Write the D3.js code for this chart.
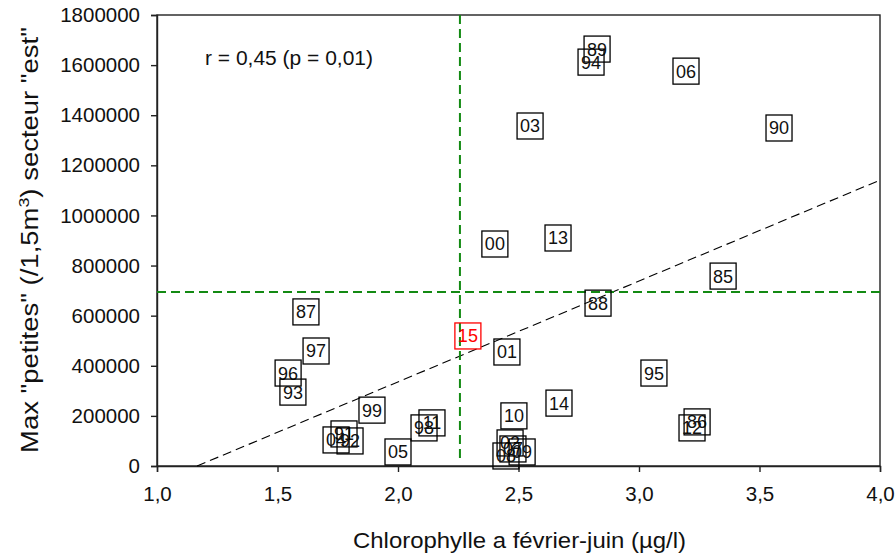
<!DOCTYPE html>
<html><head><meta charset="utf-8">
<script src="https://cdn.jsdelivr.net/npm/d3@7"></script>
<style>body{margin:0;background:#fff}svg{font-family:"Liberation Sans",Arial,sans-serif}</style>
</head><body>
<svg id="c" width="896" height="555"></svg>
<script>
const labels = ["89","94","06","03","90","00","13","85","88","87","15","01","97","96","93","95","14","99","10","98","11","86","12","91","04","92","05","02","07","08","09"];
const chl =    [2.826,2.801,3.195,2.548,3.581,2.402,2.664,3.349,2.830,1.618,2.290,2.452,1.660,1.544,1.564,3.062,2.668,1.892,2.481,2.108,2.141,3.241,3.220,1.776,1.743,1.801,2.000,2.465,2.477,2.448,2.515];
const maxPetites = [1664000,1612000,1576000,1357000,1349000,886000,910000,758000,650000,615000,519000,455000,459000,371000,295000,371000,251000,223000,200000,152000,172000,176000,152000,128000,104000,100000,56000,92000,68000,40000,56000];
const highlight = ["15"];
const xTicks = [1.0,1.5,2.0,2.5,3.0,3.5,4.0];
const yTicks = [0,200000,400000,600000,800000,1000000,1200000,1400000,1600000,1800000];
const meanChl = [2.257];
const meanMax = [694000];
const regSlope = [402600];
const regIntercept = [-469500];
const rText = ["r = 0,45 (p = 0,01)"];

const svg = d3.select("#c");
const L=157,R=880,T=15,B=466;
const x = d3.scaleLinear().domain([1,4]).range([L,R]);
const y = d3.scaleLinear().domain([0,1800000]).range([B,T]);

// frame
svg.append("rect").attr("x",L).attr("y",T).attr("width",R-L).attr("height",B-T)
  .attr("fill","none").attr("stroke","#222").attr("stroke-width",1.4);

const fmtX = d=>d3.format(".1f")(d).replace(".",",");
const xa = svg.append("g").attr("transform",`translate(0,${B})`)
  .call(d3.axisBottom(x).tickValues(xTicks).tickFormat(fmtX).tickSize(6).tickPadding(14));
const ya = svg.append("g").attr("transform",`translate(${L},0)`)
  .call(d3.axisLeft(y).tickValues(yTicks).tickFormat(d3.format("d")).tickSize(6).tickPadding(11));
[xa,ya].forEach(a=>{
  a.select(".domain").attr("stroke","#222").attr("stroke-width",1.4);
  a.selectAll(".tick line").attr("stroke","#222").attr("stroke-width",1.4);
  a.selectAll("text").attr("font-size",20.5).attr("fill","#111").attr("font-family","Liberation Sans, Arial, sans-serif");
});

// regression line
const x0 = -regIntercept[0]/regSlope[0];
svg.append("line").attr("x1",x(x0)).attr("y1",y(0)).attr("x2",x(4)).attr("y2",y(regSlope[0]*4+regIntercept[0]))
  .attr("stroke","#000").attr("stroke-width",1.1).attr("stroke-dasharray","9,5");

// mean lines
svg.append("line").attr("x1",x(meanChl[0])).attr("x2",x(meanChl[0])).attr("y1",T).attr("y2",B-4)
  .attr("stroke","#138a13").attr("stroke-width",2).attr("stroke-dasharray","9,5");
svg.append("line").attr("x1",L).attr("x2",R).attr("y1",y(meanMax[0])).attr("y2",y(meanMax[0]))
  .attr("stroke","#138a13").attr("stroke-width",2).attr("stroke-dasharray","9,5");

// points
const pts = labels.map((l,i)=>({l,x:chl[i],y:maxPetites[i]}));
const g = svg.append("g").selectAll("g").data(pts).join("g")
  .attr("transform",d=>`translate(${x(d.x)},${y(d.y)})`);
g.append("rect").attr("x",-13).attr("y",-13).attr("width",26).attr("height",26)
  .attr("fill","none").attr("stroke",d=>highlight.includes(d.l)?"#ff0000":"#000").attr("stroke-width",1.3);
g.append("text").attr("text-anchor","middle").attr("dy","0.36em").attr("font-size",18)
  .attr("fill",d=>highlight.includes(d.l)?"#ff0000":"#111").text(d=>d.l);

// r text
svg.append("text").attr("x",205).attr("y",65).attr("font-size",20).attr("fill","#111")
  .attr("textLength",168).attr("lengthAdjust","spacingAndGlyphs").text(rText[0]);

// axis titles
svg.append("text").attr("x",(L+R)/2+1).attr("y",548).attr("text-anchor","middle").attr("font-size",22).attr("fill","#111")
  .attr("textLength",333).attr("lengthAdjust","spacingAndGlyphs")
  .text("Chlorophylle a février-juin (µg/l)");
const yt = svg.append("text").attr("transform","translate(38,240) rotate(-90)").attr("text-anchor","middle").attr("font-size",23).attr("fill","#111");
yt.append("tspan").text('Max "petites" (/1,5m');
yt.append("tspan").attr("dy",-9).attr("font-size",15).text("3");
yt.append("tspan").attr("dy",9).text(') secteur "est"');
// stretch y title along its length to match reference extent
const bb = yt.node().getBBox();
const sc = 426/bb.width;
yt.attr("transform",`translate(38,240) rotate(-90) scale(${sc},1)`);
</script>
</body></html>
